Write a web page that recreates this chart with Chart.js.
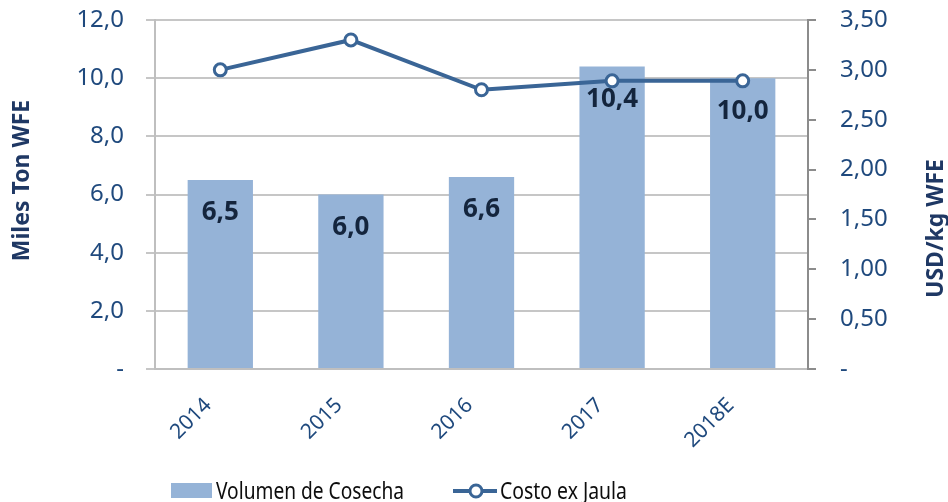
<!DOCTYPE html>
<html>
<head>
<meta charset="utf-8">
<script src="https://cdn.jsdelivr.net/npm/chart.js@4"></script>
<style>
  html, body { margin: 0; padding: 0; background: #fff; }
  #wrap { width: 948px; height: 502px; }
</style>
</head>
<body>
<div id="wrap"><canvas id="chart" width="948" height="502"></canvas></div>
<script>
// Daten
const years = ["2014", "2015", "2016", "2017", "2018E"];
const volumen = [6.5, 6.0, 6.6, 10.4, 10.0];        // Miles Ton WFE
const costo = [3.00, 3.30, 2.80, 2.89, 2.89];        // USD/kg WFE
const seriesNames = ["Volumen de Cosecha", "Costo ex Jaula"];
const axisTitles = ["Miles Ton WFE", "USD/kg WFE"];

const FONT = "'Noto Sans', 'Open Sans', sans-serif";
const barColor = "#95B3D7";
const lineColor = "#3A6596";
const tickColor = "#1F497D";
const titleColor = "#1F3864";
const labelColor = "#14253D";

function comma(v, d) {
    return v.toFixed(d).replace(".", ",");
}

// Beschriftungen der Balken, Achsentitel und Legende
const extras = {
    id: "extras",
    afterDatasetsDraw(chart) {
        const ctx = chart.ctx;
        const meta = chart.getDatasetMeta(0);
        ctx.save();
        ctx.font = "bold 26px " + FONT;
        ctx.fillStyle = labelColor;
        ctx.textAlign = "center";
        ctx.textBaseline = "middle";
        meta.data.forEach((bar, i) => {
            ctx.fillText(comma(volumen[i], 1), bar.x, bar.y + 33);
        });
        ctx.restore();
    },
    afterDraw(chart) {
        const ctx = chart.ctx;
        const area = chart.chartArea;
        const mid = (area.top + area.bottom) / 2;
        ctx.save();
        // Achsentitel, beide von unten nach oben
        ctx.font = "bold 23px " + FONT;
        ctx.fillStyle = titleColor;
        ctx.textAlign = "center";
        ctx.textBaseline = "middle";
        [[22, mid - 14, axisTitles[0]], [936, mid + 34, axisTitles[1]]].forEach(([x, y, t]) => {
            ctx.save();
            ctx.translate(x, y);
            ctx.rotate(-Math.PI / 2);
            ctx.fillText(t, 0, 0);
            ctx.restore();
        });

        // Legende
        const ly = 491;
        ctx.font = "23px " + FONT;
        ctx.textAlign = "left";
        ctx.fillStyle = barColor;
        ctx.fillRect(171, 483, 41, 15);
        ctx.fillStyle = "#0D0D0D";
        ctx.fillText(seriesNames[0], 216, ly + 1, 188);

        ctx.strokeStyle = lineColor;
        ctx.lineWidth = 4;
        ctx.beginPath();
        ctx.moveTo(453, ly);
        ctx.lineTo(497, ly);
        ctx.stroke();
        ctx.beginPath();
        ctx.arc(476, ly, 6, 0, Math.PI * 2);
        ctx.fillStyle = "#fff";
        ctx.fill();
        ctx.lineWidth = 3;
        ctx.stroke();
        ctx.fillStyle = "#0D0D0D";
        ctx.fillText(seriesNames[1], 500, ly + 1, 127);
        ctx.restore();
    }
};

// feste Breite der y-Achsen, ohne den Abstand oben/unten durch ticks.padding
function fixVertical(width) {
    return function(scale) {
        scale.width = width;
        scale.paddingTop = 10;
        scale.paddingBottom = 10;
    };
}

const ctx = document.getElementById("chart").getContext("2d");
new Chart(ctx, {
    type: "bar",
    data: {
        labels: years,
        datasets: [{
            type: "bar",
            label: seriesNames[0],
            data: volumen,
            backgroundColor: barColor,
            borderWidth: 0,
            barPercentage: 0.5,
            categoryPercentage: 1.0,
            yAxisID: "y",
            order: 1
        }, {
            type: "line",
            label: seriesNames[1],
            data: costo,
            borderColor: lineColor,
            borderWidth: 4,
            pointRadius: 6,
            pointBorderWidth: 3,
            pointBackgroundColor: "#fff",
            pointBorderColor: lineColor,
            tension: 0,
            yAxisID: "y1",
            order: 0
        }]
    },
    options: {
        responsive: false,
        animation: false,
        layout: { padding: { top: 20, left: 0, right: 0, bottom: 0 } },
        plugins: {
            legend: { display: false },
            tooltip: { enabled: false }
        },
        scales: {
            x: {
                grid: { display: true, drawOnChartArea: false, drawTicks: false },
                border: { color: "#BFBFBF", width: 2 },
                ticks: {
                    color: tickColor,
                    font: { family: FONT, size: 21 },
                    minRotation: 45,
                    maxRotation: 45,
                    padding: 24,
                    labelOffset: -12
                },
                afterFit(scale) { scale.height = 133; }
            },
            y: {
                position: "left",
                min: 0,
                max: 12,
                ticks: {
                    stepSize: 2,
                    color: tickColor,
                    font: { family: FONT, size: 24 },
                    padding: 22,
                    callback: (v) => v === 0 ? "-" : comma(v, 1)
                },
                grid: { color: "#C6C6C6", lineWidth: 2, tickLength: 9 },
                border: { color: "#BFBFBF", width: 2 },
                afterFit: fixVertical(155)
            },
            y1: {
                position: "right",
                min: 0,
                max: 3.5,
                ticks: {
                    stepSize: 0.5,
                    color: tickColor,
                    font: { family: FONT, size: 24 },
                    padding: 24,
                    callback: (v) => v === 0 ? "-" : comma(v, 2)
                },
                grid: { drawOnChartArea: false, color: "#8C8C8C", lineWidth: 2, tickLength: 8 },
                border: { color: "#8C8C8C", width: 2 },
                afterFit: fixVertical(140)
            }
        }
    },
    plugins: [extras]
});
</script>
</body>
</html>
